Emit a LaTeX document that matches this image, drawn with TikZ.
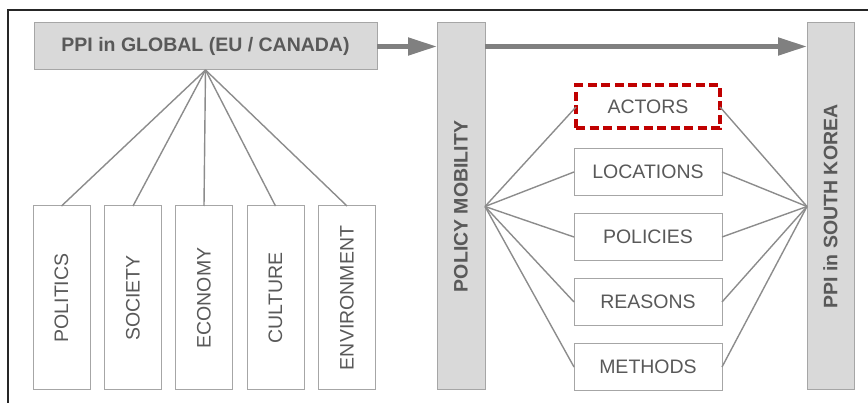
\documentclass[tikz,border=0pt]{standalone}
\usepackage{fontspec}
\setmainfont{Liberation Sans}
\usetikzlibrary{arrows.meta,positioning}
\definecolor{txtgray}{HTML}{595959}
\definecolor{boxgray}{HTML}{D9D9D9}
\definecolor{edgegray}{HTML}{A6A6A6}
\definecolor{linegray}{HTML}{8C8C8C}
\definecolor{arrowgray}{HTML}{808080}
\definecolor{darkred}{HTML}{C00000}
\tikzstyle{hb} = [rectangle, draw=edgegray, fill=boxgray, text=txtgray,
    font=\fontsize{19.5}{22}\selectfont\bfseries, inner sep=0pt, outer sep=0pt]
\tikzstyle{fb} = [rectangle, draw=edgegray, fill=white, text=txtgray,
    font=\fontsize{19.5}{22}\selectfont, inner sep=0pt, outer sep=0pt,
    minimum width=148pt, minimum height=47pt]
\tikzstyle{vb} = [fb, rotate=90, minimum width=184pt, minimum height=57pt]
\tikzstyle{ln} = [draw=linegray, line width=1.4pt]
\tikzstyle{ar} = [draw=arrowgray, line width=5pt, -{Triangle[length=29pt,width=17pt]}]

\begin{document}
\begin{tikzpicture}[x=1pt,y=-1pt,line width=1pt]
  \useasboundingbox (0,0) rectangle (868,403);

  % frame
  \draw[black!85, line width=1.2pt] (8,403) -- (8,10) -- (868,10);

  % header boxes
  \node[hb, minimum width=343pt, minimum height=47pt] (global) at (205.5,46.5) {PPI in GLOBAL (EU / CANADA)};
  \node[hb, rotate=90, minimum width=367pt, minimum height=48pt] (mobility) at (461,206.5) {POLICY MOBILITY};
  \node[hb, rotate=90, minimum width=367pt, minimum height=47pt] (korea) at (830.5,206.5) {PPI in SOUTH KOREA};

  % context boxes
  \node[vb] (politics)    at (61.5,298) {POLITICS};
  \node[vb] (society)     at (133,298)  {SOCIETY};
  \node[vb] (economy)     at (204,298)  {ECONOMY};
  \node[vb] (culture)     at (275.5,298) {CULTURE};
  \node[vb] (environment) at (347,298)  {ENVIRONMENT};

  % mobility boxes
  \node[fb, draw=darkred, line width=4pt, dash pattern=on 9pt off 4.5pt,
        minimum width=144pt, minimum height=43pt] (actors) at (648,107) {ACTORS};
  \node[fb] (locations) [below=20pt of actors]    {LOCATIONS};
  \node[fb] (policies)  [below=18pt of locations] {POLICIES};
  \node[fb] (reasons)   [below=18pt of policies]  {REASONS};
  \node[fb] (methods)   [below=18pt of reasons]   {METHODS};

  % arrows
  \draw[ar] (global.east) -- (global.east -| mobility.north);
  \draw[ar] (mobility.south |- global.east) -- (korea.north |- global.east);

  % connectors
  \path[ln] (global.south) edge (politics.east)
  (global.south) edge (society.east)
  (global.south) edge (economy.east)
  (global.south) edge (culture.east)
  (global.south) edge (environment.east);

  \path[ln] (mobility.south) edge (actors.west)
  (mobility.south) edge (locations.west)
  (mobility.south) edge (policies.west)
  (mobility.south) edge (reasons.west)
  (mobility.south) edge (methods.west)
  (actors.east) edge (korea.north)
  (locations.east) edge (korea.north)
  (policies.east) edge (korea.north)
  (reasons.east) edge (korea.north)
  (methods.east) edge (korea.north);
\end{tikzpicture}
\end{document}
